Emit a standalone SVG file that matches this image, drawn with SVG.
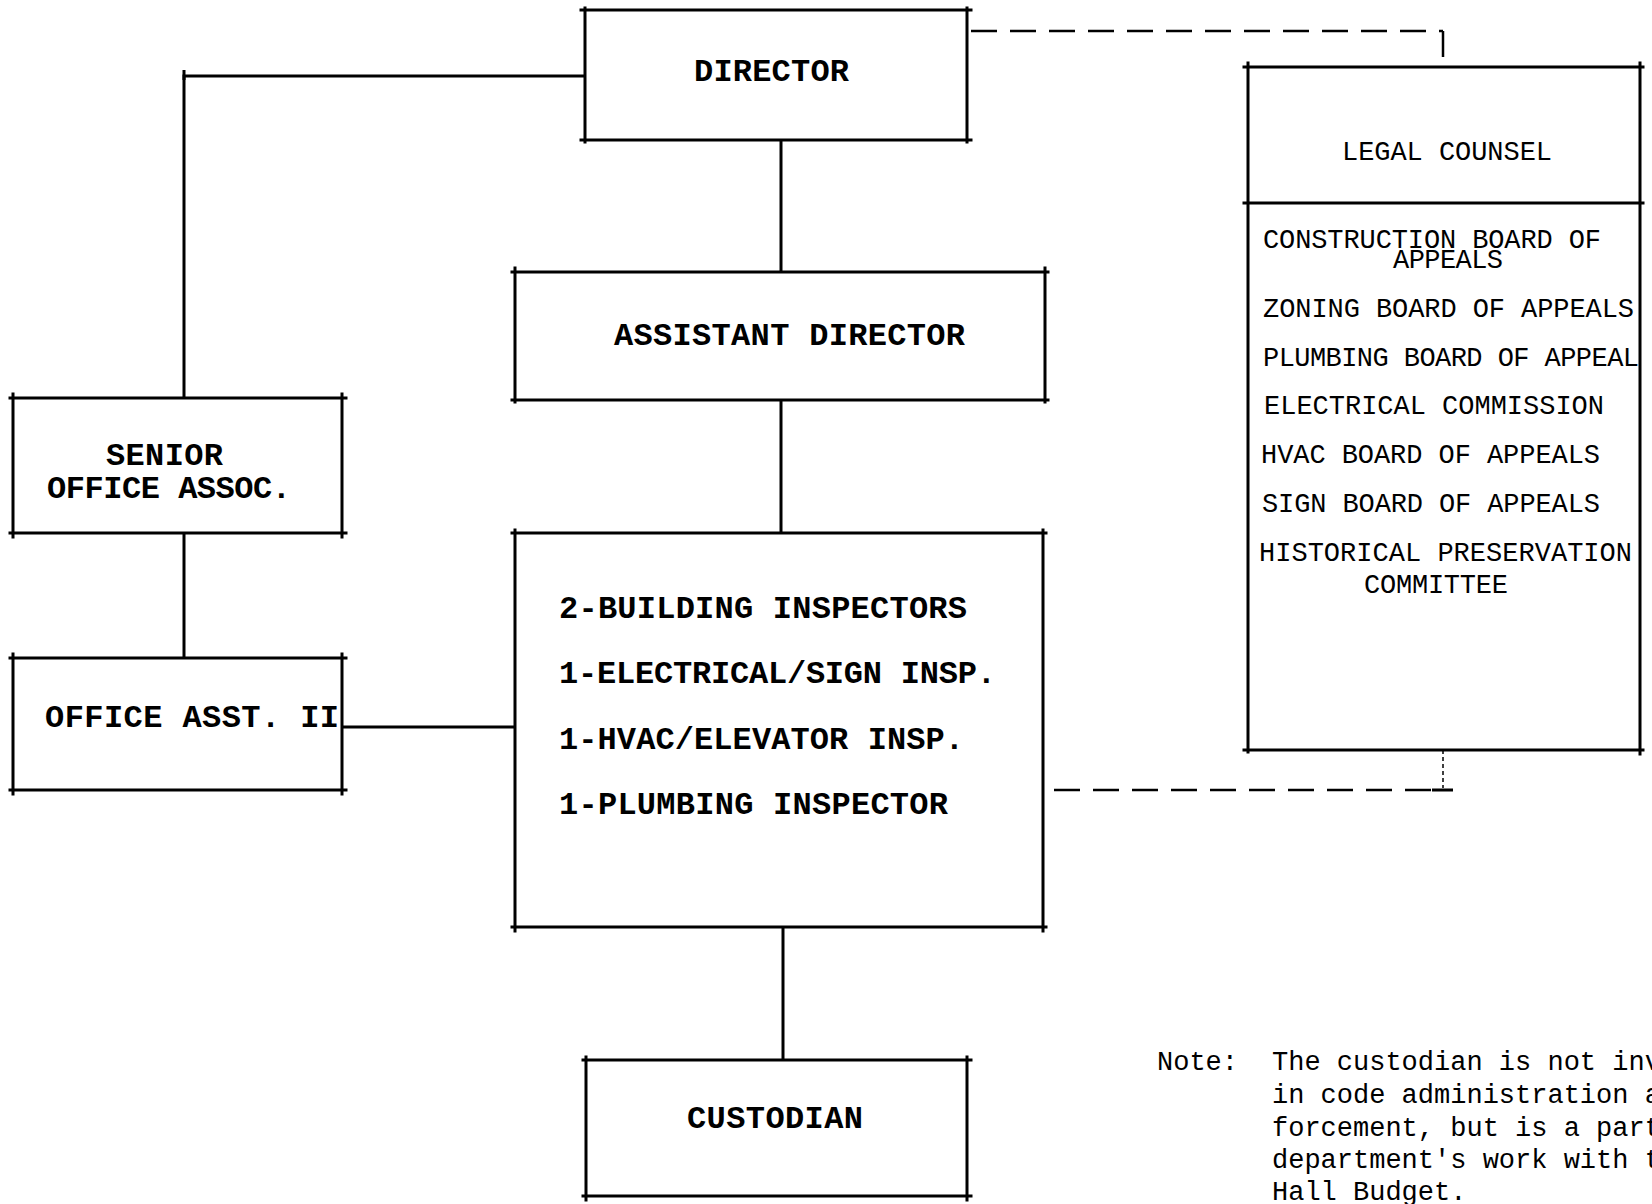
<svg xmlns="http://www.w3.org/2000/svg" width="1652" height="1204" viewBox="0 0 1652 1204">
<style>
.box{fill:none;stroke:#000;stroke-width:3;stroke-linecap:square}
.ln{fill:none;stroke:#000;stroke-width:3}
.dash{fill:none;stroke:#000;stroke-width:2.5;stroke-dasharray:26 13}
.thin{fill:none;stroke:#000;stroke-width:1.5;stroke-dasharray:4 3}
.b{font-family:"Liberation Mono","Courier New",monospace;font-weight:bold;font-size:32px;fill:#000}
.s{font-family:"Liberation Mono","Courier New",monospace;font-size:27px;fill:#000}
.r{font-family:"Liberation Mono","Courier New",monospace;font-size:27px;fill:#000}
</style>
<rect width="1652" height="1204" fill="#fff"/>
<g id="connectors">
<path class="ln" d="M585 76 H184 V398"/>
<path class="ln" d="M184 70 V80" stroke-width="2"/>
<path class="ln" d="M184 533 V658"/>
<path class="ln" d="M342 727 H515"/>
<path class="ln" d="M781 140 V272"/>
<path class="ln" d="M781 400 V533"/>
<path class="ln" d="M783 927 V1060"/>
<path class="dash" d="M971 31 H1443"/>
<path class="dash" d="M1443 31 V67"/>
<path class="thin" d="M1443 750 V788"/>
<path class="dash" d="M1054 790 H1440"/>
<path class="ln" d="M1432 790 H1453" stroke-width="2.5"/>
</g>
<g id="director">
<path class="box" d="M581 10 H971 M581 140 H971 M585 8 V142 M967 8 V142"/>
<text class="b" x="694" y="81" textLength="155" lengthAdjust="spacing">DIRECTOR</text>
</g>
<g id="assistant-director">
<path class="box" d="M512 272 H1048 M512 400 H1048 M515 268 V402 M1045 268 V402"/>
<text class="b" x="614" y="345" textLength="351" lengthAdjust="spacing">ASSISTANT DIRECTOR</text>
</g>
<g id="senior-office-assoc">
<path class="box" d="M10 398 H346 M10 533 H346 M13 394 V537 M342 394 V537"/>
<text class="b" x="106" y="465" textLength="117" lengthAdjust="spacing">SENIOR</text>
<text class="b" x="47" y="498" textLength="244" lengthAdjust="spacing">OFFICE ASSOC.</text>
</g>
<g id="office-asst-ii">
<path class="box" d="M10 658 H346 M10 790 H346 M13 654 V794 M342 654 V794"/>
<text class="b" x="45" y="727" textLength="294" lengthAdjust="spacing">OFFICE ASST. II</text>
</g>
<g id="inspectors">
<path class="box" d="M512 533 H1046 M512 927 H1046 M515 530 V931 M1043 530 V931"/>
<text class="b" x="559" y="618" textLength="408" lengthAdjust="spacing">2-BUILDING INSPECTORS</text>
<text class="b" x="559" y="683" textLength="437" lengthAdjust="spacing">1-ELECTRICAL/SIGN INSP.</text>
<text class="b" x="559" y="749" textLength="405" lengthAdjust="spacing">1-HVAC/ELEVATOR INSP.</text>
<text class="b" x="559" y="814" textLength="389" lengthAdjust="spacing">1-PLUMBING INSPECTOR</text>
</g>
<g id="custodian">
<path class="box" d="M583 1060 H971 M583 1196 H971 M586 1057 V1200 M967 1057 V1200"/>
<text class="b" x="687" y="1128" textLength="176" lengthAdjust="spacing">CUSTODIAN</text>
</g>
<g id="legal-counsel">
<path class="box" d="M1244 67 H1643 M1244 203 H1643 M1244 750 H1643 M1248 63 V752 M1640 63 V754"/>
<text class="s" x="1342" y="160" textLength="210" lengthAdjust="spacing">LEGAL COUNSEL</text>
<text class="s" x="1263" y="248" textLength="338" lengthAdjust="spacing">CONSTRUCTION BOARD OF</text>
<text class="s" x="1393" y="268" textLength="110" lengthAdjust="spacing">APPEALS</text>
<text class="s" x="1263" y="317" textLength="371" lengthAdjust="spacing">ZONING BOARD OF APPEALS</text>
<text class="s" x="1263" y="366" textLength="376" lengthAdjust="spacing">PLUMBING BOARD OF APPEAL</text>
<text class="s" x="1264" y="414" textLength="340" lengthAdjust="spacing">ELECTRICAL COMMISSION</text>
<text class="s" x="1261" y="463" textLength="339" lengthAdjust="spacing">HVAC BOARD OF APPEALS</text>
<text class="s" x="1262" y="512" textLength="338" lengthAdjust="spacing">SIGN BOARD OF APPEALS</text>
<text class="s" x="1259" y="561" textLength="373" lengthAdjust="spacing">HISTORICAL PRESERVATION</text>
<text class="s" x="1364" y="593" textLength="144" lengthAdjust="spacing">COMMITTEE</text>
</g>
<g id="note">
<text class="r" x="1157" y="1070">Note:</text>
<text class="r" x="1272" y="1070">The custodian is not inv</text>
<text class="r" x="1272" y="1103">in code administration a</text>
<text class="r" x="1272" y="1136">forcement, but is a part</text>
<text class="r" x="1272" y="1168">department's work with t</text>
<text class="r" x="1272" y="1200">Hall Budget.</text>
</g>
</svg>
